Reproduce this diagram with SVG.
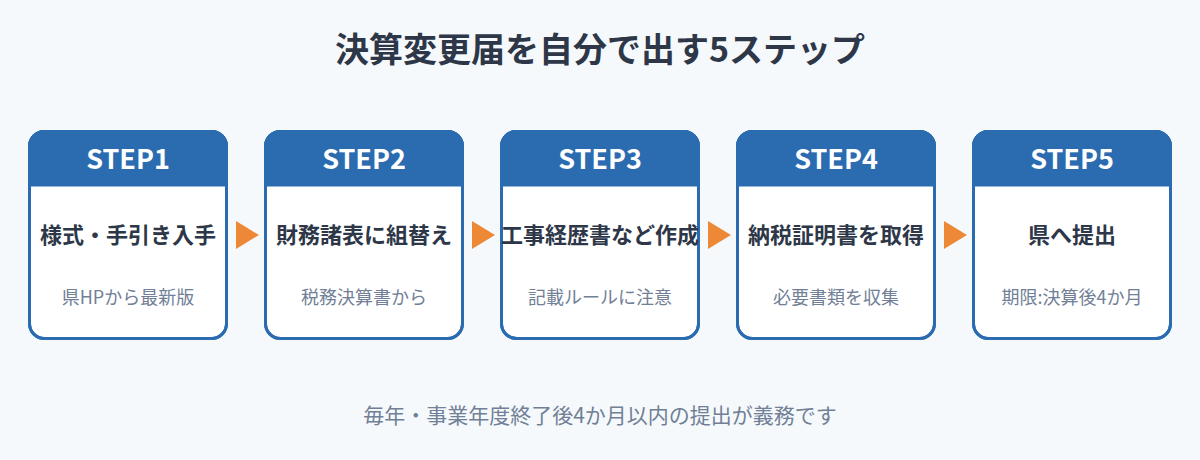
<svg xmlns="http://www.w3.org/2000/svg" width="1200" height="460" viewBox="0 0 1200 460">
<style>
.bg{fill:#f5f9fc}
.card{fill:#ffffff;stroke:#2b6cb0;stroke-width:3}
.frame{fill:none;stroke:#2b6cb0;stroke-width:3}
.head{fill:#2b6cb0}
.step{font-family:"Noto Sans CJK JP","Noto Sans",sans-serif;font-weight:700;font-size:27px;fill:#ffffff;text-anchor:middle;dominant-baseline:central}
.main{font-family:"Noto Sans CJK JP",sans-serif;font-weight:700;font-size:22px;fill:#2d3748;text-anchor:middle;dominant-baseline:central}
.sub{font-family:"Noto Sans CJK JP",sans-serif;font-size:18px;fill:#718096;text-anchor:middle;dominant-baseline:central}
.title{font-family:"Noto Sans CJK JP",sans-serif;font-weight:700;font-size:34px;fill:#2d3748;text-anchor:middle;dominant-baseline:central}
.foot{font-family:"Noto Sans CJK JP",sans-serif;font-size:21px;fill:#718096;text-anchor:middle;dominant-baseline:central}
.arrow{fill:#ed8936}
</style>
<defs>
<path id="hdr" d="M0,16 a16,16 0 0 1 16,-16 h168 a16,16 0 0 1 16,16 v40.5 H0 Z"/>
</defs>
<rect class="bg" x="0" y="0" width="1200" height="460"/>
<text id="title" class="title" x="600" y="47">決算変更届を自分で出す5ステップ</text>

<g id="step1">
<rect class="card" x="29.5" y="131.5" width="197" height="207" rx="15"/>
<use href="#hdr" class="head" x="28" y="130"/>
<rect class="frame" x="29.5" y="131.5" width="197" height="207" rx="15"/>
<text class="step" x="128" y="157">STEP1</text>
<text class="main" x="128" y="233">様式・手引き入手</text>
<text class="sub" x="128" y="296">県HPから最新版</text>
</g>

<g id="step2">
<rect class="card" x="265.5" y="131.5" width="197" height="207" rx="15"/>
<use href="#hdr" class="head" x="264" y="130"/>
<rect class="frame" x="265.5" y="131.5" width="197" height="207" rx="15"/>
<text class="step" x="364" y="157">STEP2</text>
<text class="main" x="364" y="233">財務諸表に組替え</text>
<text class="sub" x="364" y="296">税務決算書から</text>
</g>

<g id="step3">
<rect class="card" x="501.5" y="131.5" width="197" height="207" rx="15"/>
<use href="#hdr" class="head" x="500" y="130"/>
<rect class="frame" x="501.5" y="131.5" width="197" height="207" rx="15"/>
<text class="step" x="600" y="157">STEP3</text>
<text class="main" x="600" y="233">工事経歴書など作成</text>
<text class="sub" x="600" y="296">記載ルールに注意</text>
</g>

<g id="step4">
<rect class="card" x="737.5" y="131.5" width="197" height="207" rx="15"/>
<use href="#hdr" class="head" x="736" y="130"/>
<rect class="frame" x="737.5" y="131.5" width="197" height="207" rx="15"/>
<text class="step" x="836" y="157">STEP4</text>
<text class="main" x="836" y="233">納税証明書を取得</text>
<text class="sub" x="836" y="296">必要書類を収集</text>
</g>

<g id="step5">
<rect class="card" x="973.5" y="131.5" width="197" height="207" rx="15"/>
<use href="#hdr" class="head" x="972" y="130"/>
<rect class="frame" x="973.5" y="131.5" width="197" height="207" rx="15"/>
<text class="step" x="1072" y="157">STEP5</text>
<text class="main" x="1072" y="233">県へ提出</text>
<text class="sub" x="1072" y="296">期限:決算後4か月</text>
</g>

<g id="connectors">
<polygon class="arrow" points="236,221 259,235 236,249"/>
<polygon class="arrow" points="472,221 495,235 472,249"/>
<polygon class="arrow" points="708,221 731,235 708,249"/>
<polygon class="arrow" points="944,221 967,235 944,249"/>
</g>

<text id="footer" class="foot" x="600" y="414">毎年・事業年度終了後4か月以内の提出が義務です</text>
</svg>
